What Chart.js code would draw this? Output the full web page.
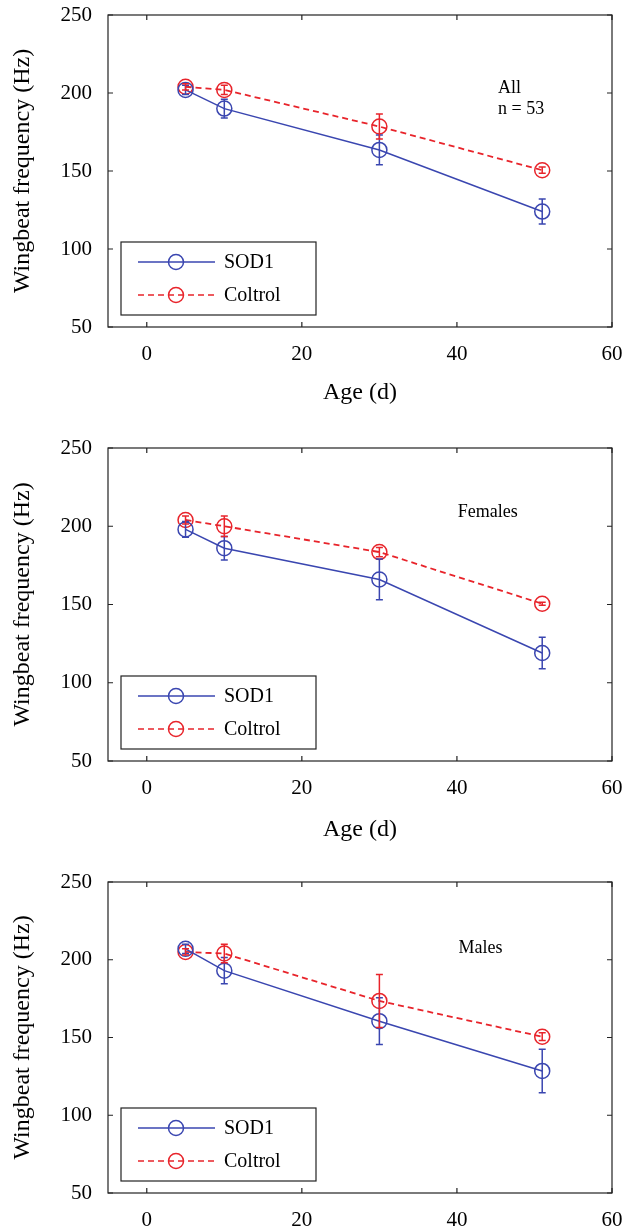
<!DOCTYPE html>
<html>
<head>
<meta charset="utf-8">
<script src="https://cdn.jsdelivr.net/npm/chart.js@4/dist/chart.umd.min.js"></script>
<style>
  html, body { margin: 0; padding: 0; background: #fff; }
  #wrap { position: relative; width: 625px; height: 1227px; overflow: hidden; }
  canvas { position: absolute; left: 0; }
</style>
</head>
<body>
<div id="wrap">
  <canvas id="c1" width="625" height="420" style="top:0px"></canvas>
  <canvas id="c2" width="625" height="430" style="top:420px"></canvas>
  <canvas id="c3" width="625" height="377" style="top:850px"></canvas>
</div>
<script>
// ages (days)
const ages = [5, 10, 30, 51];
const xTicks = [0, 20, 40, 60];
const yTicks = [50, 100, 150, 200, 250];

// All, n = 53
const allSod = [202, 190, 163.5, 124];
const allSodErr = [3, 6, 9.5, 8];
const allCtl = [204, 202, 178.5, 150.5];
const allCtlErr = [2, 3, 8, 2];

// Females
const femSod = [198, 186, 166, 119];
const femSodErr = [5, 7.5, 13, 10];
const femCtl = [204, 200, 183.5, 150.5];
const femCtlErr = [2.5, 6.5, 3, 1];

// Males
const maleSod = [207, 193, 160.5, 128.5];
const maleSodErr = [3, 8.5, 15, 14];
const maleCtl = [205, 204, 173.5, 150.5];
const maleCtlErr = [2, 6, 17, 2.5];

const BLUE = '#3a46b0';
const RED = '#e8242b';
const FONT = "'Liberation Serif', 'Times New Roman', serif";

// box + inward ticks on all four sides
const boxPlugin = {
    id: 'box',
    afterDraw(chart) {
        const ctx = chart.ctx, a = chart.chartArea;
        const xs = chart.scales.x, ys = chart.scales.y;
        ctx.save();
        ctx.strokeStyle = '#222';
        ctx.lineWidth = 1.2;
        ctx.strokeRect(a.left, a.top, a.right - a.left, a.bottom - a.top);
        ctx.beginPath();
        xTicks.forEach(v => {
            const px = xs.getPixelForValue(v);
            ctx.moveTo(px, a.bottom); ctx.lineTo(px, a.bottom - 5);
            ctx.moveTo(px, a.top); ctx.lineTo(px, a.top + 5);
        });
        yTicks.forEach(v => {
            const py = ys.getPixelForValue(v);
            ctx.moveTo(a.left, py); ctx.lineTo(a.left + 5, py);
            ctx.moveTo(a.right, py); ctx.lineTo(a.right - 5, py);
        });
        ctx.stroke();
        ctx.restore();
    }
};

// vertical error bars from each dataset's err array
const errPlugin = {
    id: 'errbars',
    afterDatasetsDraw(chart) {
        const ctx = chart.ctx;
        const xs = chart.scales.x, ys = chart.scales.y;
        ctx.save();
        chart.data.datasets.forEach(ds => {
            ctx.strokeStyle = ds.borderColor;
            ctx.lineWidth = 1.5;
            ctx.setLineDash([]);
            ds.data.forEach((p, i) => {
                const e = ds.err[i];
                const px = xs.getPixelForValue(p.x);
                const y1 = ys.getPixelForValue(p.y + e);
                const y2 = ys.getPixelForValue(p.y - e);
                ctx.beginPath();
                ctx.moveTo(px, y1); ctx.lineTo(px, y2);
                ctx.moveTo(px - 3.5, y1); ctx.lineTo(px + 3.5, y1);
                ctx.moveTo(px - 3.5, y2); ctx.lineTo(px + 3.5, y2);
                ctx.stroke();
            });
        });
        ctx.restore();
    }
};

// MATLAB style legend box inside the lower left corner + annotation text
const legendPlugin = {
    id: 'boxLegend',
    afterDraw(chart, args, opts) {
        const ctx = chart.ctx, a = chart.chartArea;
        const xs = chart.scales.x, ys = chart.scales.y;
        ctx.save();
        const bx = a.left + 13, bw = 195, bh = 73;
        const by = a.bottom - 12 - bh;
        ctx.fillStyle = '#fff';
        ctx.fillRect(bx, by, bw, bh);
        ctx.strokeStyle = '#222';
        ctx.lineWidth = 1.2;
        ctx.strokeRect(bx, by, bw, bh);
        chart.data.datasets.forEach((ds, i) => {
            const ry = by + 20 + i * 33;
            ctx.strokeStyle = ds.borderColor;
            ctx.lineWidth = 1.5;
            ctx.setLineDash(ds.borderDash || []);
            ctx.beginPath();
            ctx.moveTo(bx + 17, ry); ctx.lineTo(bx + 94, ry);
            ctx.stroke();
            ctx.setLineDash([]);
            ctx.beginPath();
            ctx.arc(bx + 55, ry, 7.5, 0, Math.PI * 2);
            ctx.stroke();
            ctx.fillStyle = '#000';
            ctx.font = '20px ' + FONT;
            ctx.textBaseline = 'middle';
            ctx.fillText(ds.label, bx + 103, ry + 1);
        });
        ctx.fillStyle = '#000';
        ctx.font = '18px ' + FONT;
        ctx.textBaseline = 'alphabetic';
        (opts.notes || []).forEach(n => {
            ctx.fillText(n.text, xs.getPixelForValue(n.x), ys.getPixelForValue(n.y));
        });
        ctx.restore();
    }
};

function makeChart(id, sod, sodErr, ctl, ctlErr, cfg) {
    const toPts = arr => arr.map((v, i) => ({x: ages[i], y: v}));
    return new Chart(document.getElementById(id), {
        type: 'line',
        data: {
            datasets: [
                {
                    label: 'SOD1', data: toPts(sod), err: sodErr,
                    borderColor: BLUE, borderWidth: 1.5,
                    pointStyle: 'circle', pointRadius: 7.5, pointBorderWidth: 1.5,
                    pointBackgroundColor: 'rgba(0,0,0,0)', pointBorderColor: BLUE,
                    tension: 0
                },
                {
                    label: 'Coltrol', data: toPts(ctl), err: ctlErr,
                    borderColor: RED, borderWidth: 1.8, borderDash: [6, 4],
                    pointStyle: 'circle', pointRadius: 7.5, pointBorderWidth: 1.5,
                    pointBackgroundColor: 'rgba(0,0,0,0)', pointBorderColor: RED,
                    tension: 0
                }
            ]
        },
        options: {
            responsive: false,
            animation: false,
            layout: { padding: { top: cfg.top, right: 13, left: 0, bottom: 0 } },
            scales: {
                x: {
                    type: 'linear', min: -5, max: 60,
                    afterBuildTicks: s => { s.ticks = xTicks.map(v => ({value: v})); },
                    afterFit: s => { s.height = cfg.xh; s.paddingLeft = 0; s.paddingRight = 0; },
                    grid: { display: false },
                    border: { display: false },
                    ticks: { color: '#000', font: { family: FONT, size: 21 }, padding: 7, maxRotation: 0 },
                    title: {
                        display: cfg.xTitle, text: 'Age (d)', color: '#000',
                        font: { family: FONT, size: 24 }, padding: { top: 0, bottom: cfg.xtb }
                    }
                },
                y: {
                    min: 50, max: 250,
                    afterBuildTicks: s => { s.ticks = yTicks.map(v => ({value: v})); },
                    afterFit: s => { s.width = 108; s.paddingTop = 0; s.paddingBottom = 0; },
                    grid: { display: false },
                    border: { display: false },
                    ticks: { color: '#000', font: { family: FONT, size: 21 }, padding: 8 },
                    title: {
                        display: true, text: 'Wingbeat frequency (Hz)', color: '#000',
                        font: { family: FONT, size: 24 }, padding: { top: 8, bottom: 0 }
                    }
                }
            },
            plugins: {
                legend: { display: false },
                tooltip: { enabled: false },
                boxLegend: { notes: cfg.notes }
            }
        },
        plugins: [errPlugin, boxPlugin, legendPlugin]
    });
}

makeChart('c1', allSod, allSodErr, allCtl, allCtlErr, {
    top: 15, xh: 93, xTitle: true, xtb: 13,
    notes: [{text: 'All', x: 45.3, y: 200.2}, {text: 'n = 53', x: 45.3, y: 186.5}]
});
makeChart('c2', femSod, femSodErr, femCtl, femCtlErr, {
    top: 28, xh: 89, xTitle: true, xtb: 6,
    notes: [{text: 'Females', x: 40.1, y: 205.8}]
});
makeChart('c3', maleSod, maleSodErr, maleCtl, maleCtlErr, {
    top: 32, xh: 34, xTitle: false, xtb: 0,
    notes: [{text: 'Males', x: 40.2, y: 204.5}]
});
</script>
</body>
</html>
